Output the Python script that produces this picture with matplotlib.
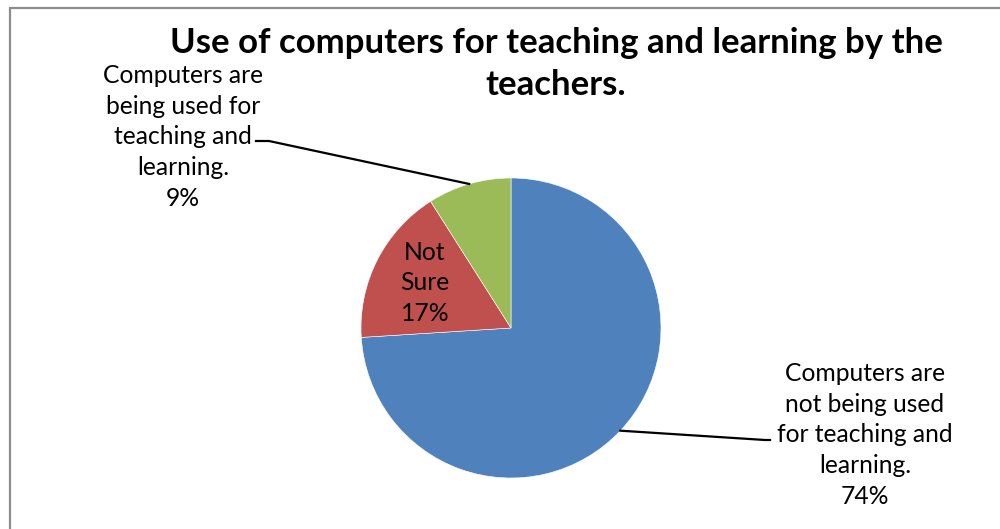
import numpy as np
import matplotlib.pyplot as plt
from matplotlib.patches import Rectangle

#data
labels = ["Computers are\nnot being used\nfor teaching and\nlearning.", "Not\nSure", "Computers are\nbeing used for\nteaching and\nlearning."]
shares = [74, 17, 9]
colors = ["#4F81BD", "#C0504D", "#9BBB59"]
title_lines = ["Use of computers for teaching and learning by the", "teachers."]

plt.rcParams['font.family'] = ['Lato', 'DejaVu Sans']

#%%
fig = plt.figure(figsize=(10, 5.29), dpi=100)
ax = fig.add_axes([0, 0, 1, 1])

#chart border
ax.add_patch(Rectangle((10, -20), 1020, 541, fill=False, edgecolor="#8c8c8c", lw=1.6))

cx, cy, r = 511, 201, 150
wedges, _ = ax.pie(shares, colors=colors, startangle=90, counterclock=False,
                   center=(cx, cy), radius=r, frame=True,
                   wedgeprops=dict(edgecolor="white", linewidth=0.4))
ax.set_xlim(0, 1000)
ax.set_ylim(0, 529)
ax.set_aspect('equal')
ax.axis('off')

def mid(w):
    a = np.deg2rad((w.theta1 + w.theta2) / 2)
    return cx + r * np.cos(a), cy + r * np.sin(a)

fs = 17.7
ls = 1.42
#big slice label
x0, y0 = mid(wedges[0])
ax.text(865, 94, labels[0] + "\n%d%%" % shares[0], ha='center', va='center', fontsize=fs, linespacing=ls)
ax.plot([x0, 765, 770], [y0, 89, 89], color='black', lw=1.6)

#not sure label inside the slice
ax.text(425, 246, labels[1] + "\n%d%%" % shares[1], ha='center', va='center', fontsize=fs, linespacing=ls)

#small slice label
x2, y2 = mid(wedges[2])
ax.text(183, 392, labels[2] + "\n%d%%" % shares[2], ha='center', va='center', fontsize=fs, linespacing=ls)
ax.plot([x2, 269, 256], [y2, 388, 388], color='black', lw=1.6)

#title, one text per line
ax.text(556, 486, title_lines[0], ha='center', va='center', fontsize=25, fontweight='bold')
ax.text(556, 444, title_lines[1], ha='center', va='center', fontsize=25, fontweight='bold')

fig.savefig("out.png", dpi=100)
